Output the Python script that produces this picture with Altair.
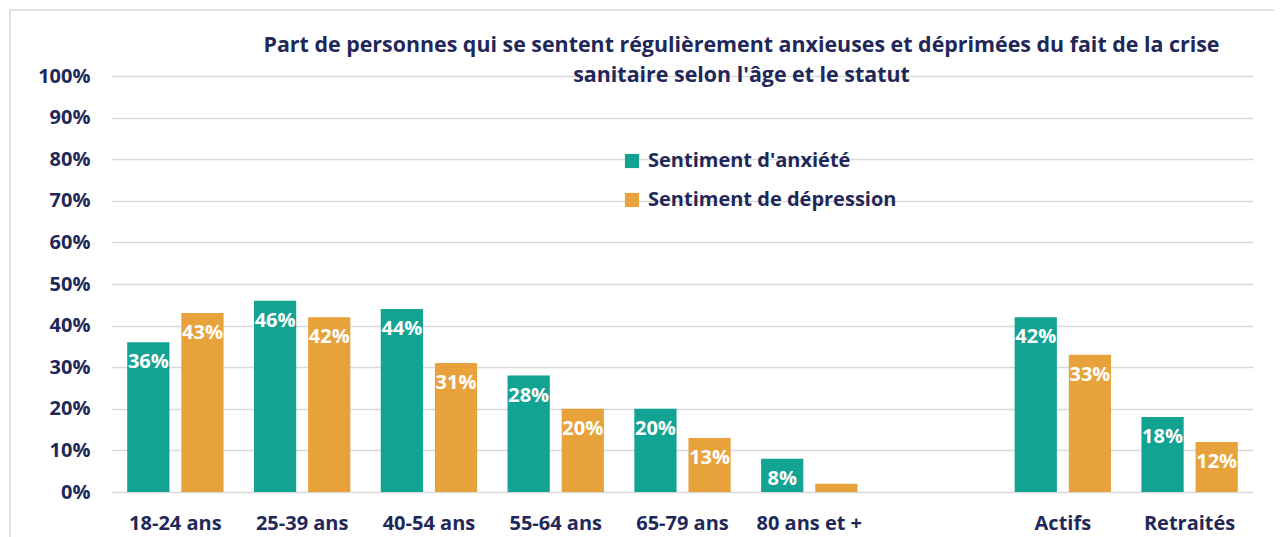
import altair as alt
import pandas as pd

categories = ["18-24 ans", "25-39 ans", "40-54 ans", "55-64 ans", "65-79 ans", "80 ans et +", " ", "Actifs", "Retraités"]
groups = ["18-24 ans", "25-39 ans", "40-54 ans", "55-64 ans", "65-79 ans", "80 ans et +", "Actifs", "Retraités"]
anxiete = [36, 46, 44, 28, 20, 8, 42, 18]
depression = [43, 42, 31, 20, 13, 2, 33, 12]
series = ["Sentiment d'anxiété", "Sentiment de dépression"]
colors = ["#12A393", "#E8A23C"]

rows = []
for g, a, d in zip(groups, anxiete, depression):
    rows.append({"cat": g, "serie": series[0], "val": a / 100})
    rows.append({"cat": g, "serie": series[1], "val": d / 100})
df = pd.DataFrame(rows)

NAVY = "#1F2858"
FONT = "Open Sans"

x = alt.X("cat:N", sort=categories, scale=alt.Scale(domain=categories, paddingInner=0.24, paddingOuter=0.12),
          axis=alt.Axis(title=None, labelAngle=0, labelFontSize=20, labelFontWeight="bold", labelColor=NAVY,
                        labelFont=FONT, labelPadding=21, ticks=False, domain=False, grid=False))
xo = alt.XOffset("serie:N", sort=series, scale=alt.Scale(paddingInner=0.22, paddingOuter=0))
y = alt.Y("val:Q", scale=alt.Scale(domain=[0, 1]),
          axis=alt.Axis(title=None, format=".0%", values=[i / 10 for i in range(11)], labelFontSize=20,
                        labelFontWeight="bold", labelColor=NAVY, labelFont=FONT, labelPadding=22,
                        ticks=False, domain=False, grid=True, gridColor="#D9D9D9", gridWidth=1.5))

bars = alt.Chart(df).mark_bar().encode(
    x=x, xOffset=xo, y=y,
    color=alt.Color("serie:N", sort=series, scale=alt.Scale(domain=series, range=colors),
                    legend=alt.Legend(title=None, orient="none", legendX=510, legendY=75, direction="vertical",
                                      symbolType="square", symbolSize=200, symbolStrokeWidth=0,
                                      labelFontSize=20, labelFontWeight="bold", labelColor=NAVY, labelFont=FONT,
                                      labelLimit=500, rowPadding=19, labelOffset=6)),
)

labels = alt.Chart(df).mark_text(baseline="top", dy=10, color="white", fontSize=20, fontWeight="bold",
                                 font=FONT, clip=True).encode(
    x=x, xOffset=xo, y=y, text=alt.Text("val:Q", format=".0%")
)

border = alt.Chart(pd.DataFrame({"k": [0]})).mark_rect(fill=None, stroke="#D9D9D9", strokeWidth=1.5, clip=False).encode(
    x=alt.value(-102), x2=alt.value(1170), y=alt.value(-66), y2=alt.value(470)
)

chart = alt.layer(border, bars, labels).properties(
    width=1141, height=416,
    title=alt.TitleParams(
        ["Part de personnes qui se sentent régulièrement anxieuses et déprimées du fait de la crise",
         "sanitaire selon l'âge et le statut"],
        anchor="middle", dx=59, fontSize=21.4, fontWeight="bold", color=NAVY, font=FONT, lineHeight=30, offset=-77),
    autosize=alt.AutoSizeParams(type="none"),
    padding={"left": 104, "top": 68, "right": 21, "bottom": 45},
).configure_view(stroke=None)

chart.save("out.html", embed_options={"renderer": "svg", "actions": False})
